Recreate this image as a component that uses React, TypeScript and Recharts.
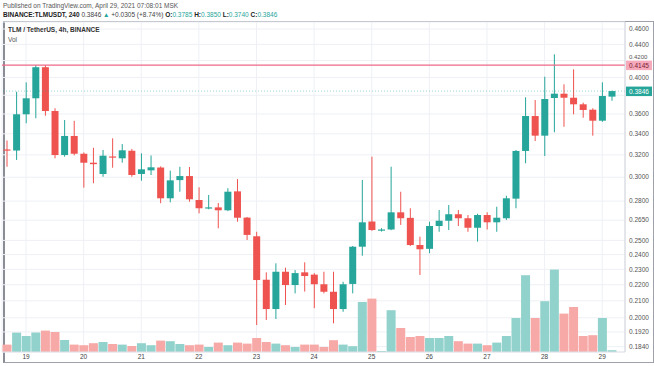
import React from "react";
import { ComposedChart, Bar, XAxis, YAxis, CartesianGrid, ReferenceLine, Cell } from "recharts";

const TIMES = [
  "04-18 16:00", "04-18 20:00",
  "04-19 00:00", "04-19 04:00", "04-19 08:00", "04-19 12:00", "04-19 16:00", "04-19 20:00",
  "04-20 00:00", "04-20 04:00", "04-20 08:00", "04-20 12:00", "04-20 16:00", "04-20 20:00",
  "04-21 00:00", "04-21 04:00", "04-21 08:00", "04-21 12:00", "04-21 16:00", "04-21 20:00",
  "04-22 00:00", "04-22 04:00", "04-22 08:00", "04-22 12:00", "04-22 16:00", "04-22 20:00",
  "04-23 00:00", "04-23 04:00", "04-23 08:00", "04-23 12:00", "04-23 16:00", "04-23 20:00",
  "04-24 00:00", "04-24 04:00", "04-24 08:00", "04-24 12:00", "04-24 16:00", "04-24 20:00",
  "04-25 00:00", "04-25 04:00", "04-25 08:00", "04-25 12:00", "04-25 16:00", "04-25 20:00",
  "04-26 00:00", "04-26 04:00", "04-26 08:00", "04-26 12:00", "04-26 16:00", "04-26 20:00",
  "04-27 00:00", "04-27 04:00", "04-27 08:00", "04-27 12:00", "04-27 16:00", "04-27 20:00",
  "04-28 00:00", "04-28 04:00", "04-28 08:00", "04-28 12:00", "04-28 16:00", "04-28 20:00",
  "04-29 00:00", "04-29 04:00",
];

const OPEN = [
  0.3250, 0.3240, 0.3597, 0.3767, 0.4120, 0.3631, 0.3198, 0.3379, 0.3210, 0.3128,
  0.3028, 0.3185, 0.3168, 0.3238, 0.3028, 0.3060, 0.3085, 0.2823, 0.2975, 0.3010,
  0.2809, 0.2745, 0.2750, 0.2727, 0.2880, 0.2670, 0.2530, 0.2232, 0.2051, 0.2284,
  0.2198, 0.2280, 0.2265, 0.2203, 0.2156, 0.2051, 0.2205, 0.2455, 0.2640, 0.2575,
  0.2580, 0.2711, 0.2668, 0.2467, 0.2440, 0.2606, 0.2646, 0.2696, 0.2665, 0.2593,
  0.2690, 0.2634, 0.2665, 0.2820, 0.3236, 0.3579, 0.3382, 0.3770, 0.3817, 0.3773,
  0.3702, 0.3645, 0.3531, 0.3785,
];
const HIGH = [
  0.3335, 0.3839, 0.3944, 0.4145, 0.4145, 0.3660, 0.3538, 0.3530, 0.3222, 0.3266,
  0.3245, 0.3356, 0.3301, 0.3255, 0.3214, 0.3194, 0.3095, 0.3057, 0.3092, 0.3090,
  0.2914, 0.2850, 0.2785, 0.2906, 0.2984, 0.2675, 0.2563, 0.2280, 0.2340, 0.2311,
  0.2295, 0.2347, 0.2275, 0.2284, 0.2284, 0.2219, 0.2460, 0.2976, 0.3183, 0.2590,
  0.3092, 0.2877, 0.2743, 0.2527, 0.2639, 0.2729, 0.2769, 0.2729, 0.2690, 0.2700,
  0.2711, 0.2755, 0.2844, 0.3245, 0.3778, 0.3748, 0.4009, 0.4276, 0.3922, 0.4095,
  0.3720, 0.3660, 0.3944, 0.3850,
];
const LOW = [
  0.3092, 0.3153, 0.3505, 0.3556, 0.3582, 0.3168, 0.3183, 0.3195, 0.2911, 0.2948,
  0.3004, 0.3083, 0.3128, 0.3004, 0.2970, 0.3019, 0.2783, 0.2790, 0.2877, 0.2795,
  0.2703, 0.2735, 0.2589, 0.2720, 0.2639, 0.2503, 0.1959, 0.1987, 0.1993, 0.2075,
  0.2146, 0.2157, 0.2056, 0.2146, 0.1968, 0.2035, 0.2146, 0.2392, 0.2570, 0.2565,
  0.2575, 0.2614, 0.2460, 0.2263, 0.2409, 0.2563, 0.2576, 0.2606, 0.2563, 0.2491,
  0.2580, 0.2563, 0.2652, 0.2743, 0.3123, 0.3330, 0.3189, 0.3415, 0.3470, 0.3597,
  0.3562, 0.3382, 0.3520, 0.3740,
];
const CLOSE = [
  0.3240, 0.3597, 0.3767, 0.4120, 0.3631, 0.3198, 0.3379, 0.3210, 0.3128, 0.3115,
  0.3192, 0.3177, 0.3242, 0.3019, 0.3069, 0.3087, 0.2823, 0.2973, 0.3010, 0.2815,
  0.2743, 0.2750, 0.2727, 0.2877, 0.2669, 0.2540, 0.2230, 0.2051, 0.2284, 0.2198,
  0.2275, 0.2256, 0.2203, 0.2156, 0.2051, 0.2203, 0.2455, 0.2634, 0.2576, 0.2580,
  0.2711, 0.2665, 0.2467, 0.2437, 0.2606, 0.2646, 0.2696, 0.2665, 0.2593, 0.2690,
  0.2634, 0.2669, 0.2823, 0.3236, 0.3579, 0.3382, 0.3759, 0.3817, 0.3773, 0.3702,
  0.3642, 0.3531, 0.3792, 0.3846,
];
// volume in millions TLM
const VOLUME = [
  3.7, 9.7, 8.0, 9.7, 10.7, 10.0, 6.0, 3.7, 3.4, 4.4,
  5.0, 4.0, 3.7, 3.0, 4.4, 3.4, 5.7, 5.4, 4.0, 3.4,
  3.7, 2.5, 4.7, 3.4, 4.7, 4.2, 7.0, 5.0, 4.2, 3.4,
  2.5, 3.7, 3.7, 2.5, 5.9, 3.7, 2.9, 25.0, 26.7, 0.5,
  20.9, 12.0, 7.5, 8.0, 7.0, 7.0, 8.0, 5.4, 4.2, 4.2,
  3.4, 4.7, 8.0, 17.0, 38.4, 17.0, 25.4, 41.2, 19.2, 22.5,
  8.0, 8.4, 17.0, 0.9,
];

const DAY_TICKS = [
  "04-19 00:00", "04-20 00:00", "04-21 00:00", "04-22 00:00", "04-23 00:00", "04-24 00:00",
  "04-25 00:00", "04-26 00:00", "04-27 00:00", "04-28 00:00", "04-29 00:00",
];
const DAY_LABELS = ["19", "20", "21", "22", "23", "24", "25", "26", "27", "28", "29"];
const PRICE_TICKS = [
  0.46, 0.44, 0.42, 0.4, 0.38, 0.36, 0.34, 0.32, 0.3, 0.28, 0.265, 0.25, 0.24, 0.23, 0.22,
  0.21, 0.2, 0.192, 0.184,
];
// tick labels covered by the price tags in the reference
const HIDDEN_TICKS = [0.38];
const PARTIAL_TICKS = [0.42];
const PRICE_DOMAIN = [0.1812, 0.4694];
const VOL_DOMAIN = [0, 165];
const RESISTANCE = 0.4145;
const LAST_PRICE = 0.3846;

const data = TIMES.map((t, i) => ({
  t,
  open: OPEN[i],
  high: HIGH[i],
  low: LOW[i],
  close: CLOSE[i],
  vol: VOLUME[i],
}));

const UP = "#26a69a";
const DOWN = "#ef5350";
const UP_VOL = "#92d2cc";
const DOWN_VOL = "#f7a9a7";
const FONT = "'Liberation Sans', Arial, sans-serif";

function Candle(props: any) {
  const { x, y, width, height, payload } = props;
  if (!payload || height == null) return null;
  const { open, close, high, low } = payload;
  const lh = Math.log(high);
  const ll = Math.log(low);
  const span = lh - ll || 1;
  const toY = (v: number) => y + (height * (lh - Math.log(v))) / span;
  const cx = x + width / 2;
  const color = close >= open ? UP : DOWN;
  const top = toY(Math.max(open, close));
  const bot = toY(Math.min(open, close));
  const bw = 7;
  return (
    <g>
      <rect x={cx - 0.5} y={y} width={1} height={Math.max(height, 1)} fill={color} />
      <rect x={cx - bw / 2} y={top} width={bw} height={Math.max(bot - top, 1.2)} fill={color} />
    </g>
  );
}

function PriceTick(props: any) {
  const { x, y, payload } = props;
  const v = payload?.value;
  if (HIDDEN_TICKS.includes(v)) return null;
  const partial = PARTIAL_TICKS.includes(v);
  return (
    <text
      x={x}
      y={partial ? y - 3.2 : y}
      dy="0.35em"
      textAnchor="start"
      fontSize={partial ? 6 : 6.5}
      fill="#555"
      fontFamily={FONT}
    >
      {Number(v).toFixed(4)}
    </text>
  );
}

function AxisTag(props: any) {
  const { viewBox, text, bg, fg } = props;
  if (!viewBox) return null;
  const left = viewBox.x + viewBox.width;
  const y = viewBox.y;
  return (
    <g>
      <rect x={left + 1} y={y - 4.5} width={26} height={9.5} fill={bg} />
      <text x={left + 4} y={y + 0.3} dy="0.35em" fontSize={6.5} fill={fg} fontFamily={FONT}>
        {text}
      </text>
    </g>
  );
}

export default function App() {
  return (
    <div
      style={{
        position: "absolute",
        left: 0,
        top: 0,
        width: 654,
        height: 366,
        background: "#fff",
        fontFamily: FONT,
        overflow: "hidden",
      }}
    >
      <div style={{ position: "absolute", left: 3, top: 1.5, fontSize: 6.5, color: "#555", whiteSpace: "nowrap" }}>
        Published on TradingView.com, April 29, 2021 07:08:01 MSK
      </div>
      <div style={{ position: "absolute", left: 3, top: 10.5, fontSize: 6.5, color: "#222", whiteSpace: "nowrap" }}>
        <b>BINANCE:TLMUSDT, 240</b> <span style={{ color: "#444" }}>0.3846</span>{" "}
        <span style={{ color: UP }}>▲</span> <span style={{ color: "#444" }}>+0.0305 (+8.74%)</span>{" "}
        <b>O:</b><span style={{ color: UP }}>0.3785</span> <b>H:</b><span style={{ color: UP }}>0.3850</span>{" "}
        <b>L:</b><span style={{ color: UP }}>0.3740</span> <b>C:</b><span style={{ color: UP }}>0.3846</span>
      </div>
      <div
        style={{
          position: "absolute",
          left: 3,
          top: 21,
          width: 648,
          height: 340,
          border: "1px solid #9ea1a9",
          borderLeft: "2px solid #8a8d95",
        }}
      />
      <div style={{ position: "absolute", left: 0, top: 0 }}>
        <ComposedChart
          width={654}
          height={366}
          data={data}
          margin={{ top: 22, right: 0, bottom: 0, left: 2 }}
          barCategoryGap={0.5}
          style={{ fontFamily: FONT }}
        >
          <CartesianGrid stroke="#eef0f5" strokeWidth={1} />
          <XAxis
            dataKey="t"
            ticks={DAY_TICKS}
            interval={0}
            height={14}
            padding={{ left: 0, right: 8.4 }}
            tickLine={false}
            tickSize={0}
            tickMargin={2}
            axisLine={{ stroke: "#e0e3eb" }}
            tick={{ fontSize: 6.5, fill: "#444" }}
            tickFormatter={(t: string) => DAY_LABELS[DAY_TICKS.indexOf(t)] ?? ""}
          />
          <XAxis xAxisId="v" dataKey="t" hide padding={{ left: 0, right: 8.4 }} />
          <YAxis
            orientation="right"
            scale="log"
            domain={PRICE_DOMAIN}
            allowDataOverflow
            ticks={PRICE_TICKS}
            interval={0}
            width={29}
            tickLine={false}
            tickSize={0}
            tickMargin={4}
            axisLine={{ stroke: "#d1d4dc" }}
            tick={<PriceTick />}
          />
          <YAxis yAxisId="v" hide domain={VOL_DOMAIN} />
          <Bar xAxisId="v" yAxisId="v" dataKey="vol" isAnimationActive={false}>
            {data.map((d, i) => (
              <Cell key={i} fill={d.close >= d.open ? UP_VOL : DOWN_VOL} />
            ))}
          </Bar>
          <ReferenceLine
            y={LAST_PRICE}
            stroke={UP}
            strokeOpacity={0.45}
            strokeDasharray="1 2"
            label={<AxisTag text="0.3846" bg={UP} fg="#fff" />}
          />
          <ReferenceLine
            y={RESISTANCE}
            stroke="#ee6a88"
            strokeWidth={1.2}
            label={<AxisTag text="0.4145" bg="#f5a9bb" fg="#7d2236" />}
          />
          <Bar
            dataKey={(d: any) => [d.low, d.high]}
            shape={<Candle />}
            isAnimationActive={false}
          />
        </ComposedChart>
      </div>
      <div style={{ position: "absolute", left: 8, top: 25.5, fontSize: 6.5, fontWeight: 700, color: "#333", whiteSpace: "nowrap" }}>
        TLM / TetherUS, 4h, BINANCE
      </div>
      <div style={{ position: "absolute", left: 8, top: 35.5, fontSize: 6.5, color: "#555", whiteSpace: "nowrap" }}>
        Vol
      </div>
    </div>
  );
}
